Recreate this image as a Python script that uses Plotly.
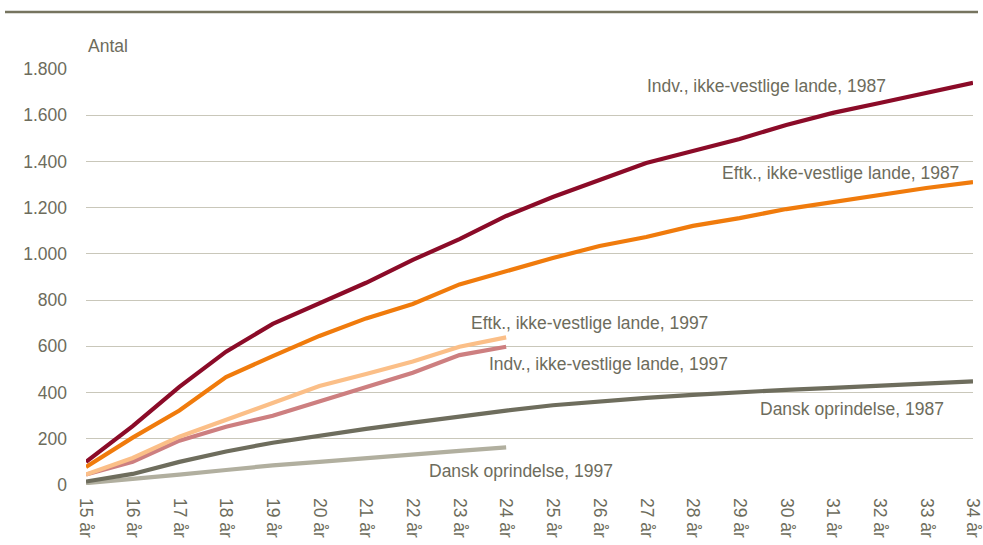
import plotly.graph_objects as go

# Age categories (x axis)
ages = [f"{a} år" for a in range(15, 35)]

# Cumulative counts per series
indv_ikke_vest_1987 = [100, 255, 425, 577, 697, 786, 875, 974, 1064, 1164,
                       1246, 1320, 1393, 1445, 1497, 1558, 1610, 1653, 1696, 1740]
eftk_ikke_vest_1987 = [78, 205, 322, 467, 558, 645, 721, 783, 868, 927,
                       982, 1034, 1073, 1121, 1155, 1194, 1225, 1255, 1285, 1311]
eftk_ikke_vest_1997 = [45, 117, 209, 281, 356, 428, 480, 534, 598, 639]
indv_ikke_vest_1997 = [45, 101, 192, 252, 300, 361, 423, 486, 562, 598]
dansk_1987 = [15, 48, 100, 145, 183, 215, 243, 270, 297, 322,
              345, 362, 377, 390, 402, 412, 420, 428, 438, 448]
dansk_1997 = [8, 25, 45, 65, 85, 100, 117, 132, 148, 163]

y_ticks = [0, 200, 400, 600, 800, 1000, 1200, 1400, 1600, 1800]
y_ticktext = ["0", "200", "400", "600", "800", "1.000", "1.200", "1.400", "1.600", "1.800"]

FONT = "Liberation Sans Narrow, Arial Narrow, Liberation Sans, sans-serif"
TEXT = "#6d6c5c"
FS = 17.5

series = [
    ("Dansk oprindelse, 1997", dansk_1997, "#b1af9f", (9.31, 61)),
    ("Dansk oprindelse, 1987", dansk_1987, "#6e6d5d", (16.41, 329)),
    ("Indv., ikke-vestlige lande, 1997", indv_ikke_vest_1997, "#cd7f80", (11.19, 524)),
    ("Eftk., ikke-vestlige lande, 1997", eftk_ikke_vest_1997, "#fbbf88", (10.79, 701)),
    ("Eftk., ikke-vestlige lande, 1987", eftk_ikke_vest_1987, "#f07b0c", (16.16, 1350)),
    ("Indv., ikke-vestlige lande, 1987", indv_ikke_vest_1987, "#8b0b28", (14.58, 1727)),
]

fig = go.Figure()
for name, vals, color, _ in series:
    fig.add_trace(go.Scatter(
        x=list(range(len(vals))), y=vals, mode="lines", name=name,
        line=dict(color=color, width=4.2), hoverinfo="skip",
    ))

annotations = [
    dict(x=pos[0], y=pos[1], xref="x", yref="y", text=name, showarrow=False,
         font=dict(family=FONT, size=FS, color=TEXT), xanchor="center", yanchor="middle")
    for name, _, _, pos in series
]
annotations.append(dict(
    x=0, y=1.055, xref="paper", yref="paper", text="Antal", showarrow=False,
    font=dict(family=FONT, size=FS, color=TEXT), xanchor="left", yanchor="middle",
))

PLOT_W = 983 - 86 - 10
fig.update_layout(
    width=983, height=545,
    margin=dict(l=86, r=10, t=69, b=60, autoexpand=False),
    paper_bgcolor="white", plot_bgcolor="white",
    showlegend=False,
    annotations=annotations,
    shapes=[dict(type="line", xref="paper", yref="paper",
                 x0=(5 - 86) / PLOT_W, x1=(978 - 86) / PLOT_W,
                 y0=(485 - 12) / 416, y1=(485 - 12) / 416,
                 line=dict(color="#76745f", width=2.5))],
)
fig.update_xaxes(
    range=[0, 19], tickmode="array", tickvals=list(range(20)), ticktext=ages,
    tickangle=90, showgrid=False, zeroline=False, showline=False, ticks="",
    ticklabeloverflow="allow", ticklabelstandoff=12, automargin=False,
    tickfont=dict(family=FONT, size=FS, color=TEXT),
)
fig.update_yaxes(
    range=[0, 1800], tickmode="array", tickvals=y_ticks, ticktext=y_ticktext,
    showgrid=True, gridcolor="#c9c7ba", gridwidth=1, zeroline=False, showline=False,
    ticks="", ticklabelstandoff=18, automargin=False,
    tickfont=dict(family=FONT, size=FS, color=TEXT),
)

fig.write_html("out.html")
